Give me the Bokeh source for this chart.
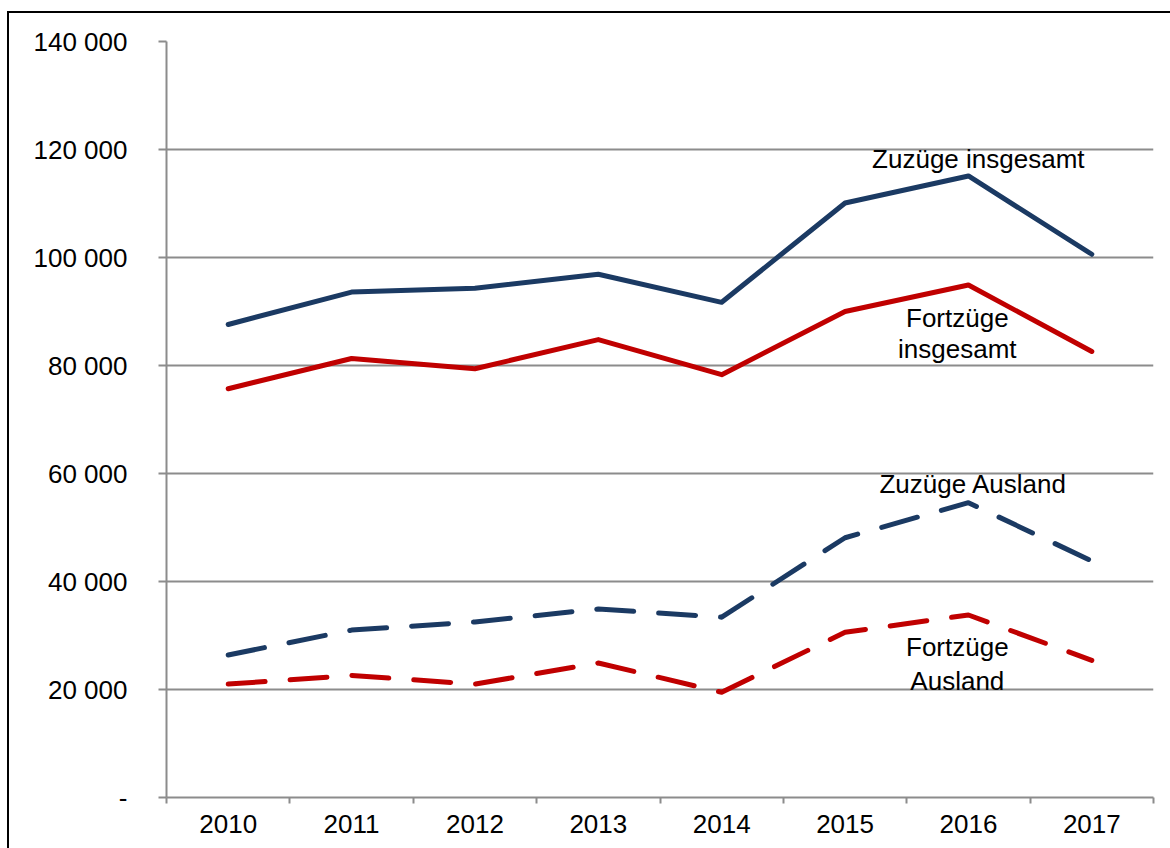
from bokeh.plotting import figure
from bokeh.models import Range1d, FixedTicker, CustomJSTickFormatter, Label
from bokeh.embed import file_html
from bokeh.resources import INLINE

years = [2010, 2011, 2012, 2013, 2014, 2015, 2016, 2017]
zuzuege_insgesamt = [87600, 93600, 94300, 96900, 91700, 110100, 115100, 100600]
fortzuege_insgesamt = [75700, 81300, 79400, 84800, 78300, 90000, 94900, 82600]
zuzuege_ausland = [26400, 31000, 32500, 34900, 33400, 48100, 54600, 43800]
fortzuege_ausland = [21000, 22600, 21000, 24900, 19500, 30600, 33800, 25400]
y_ticks = [0, 20000, 40000, 60000, 80000, 100000, 120000, 140000]

FONT = "Liberation Sans"
NAVY = "#1B3A63"
RED = "#C00000"
GRID = "#8C8C8C"

p = figure(width=1163, height=837, output_backend="svg", toolbar_location=None,
           x_range=Range1d(years[0] - 0.5, years[-1] + 0.5),
           y_range=Range1d(y_ticks[0], y_ticks[-1]),
           min_border_left=157, min_border_right=19, min_border_top=28, min_border_bottom=53)
p.margin = (11, 0, 0, 7)
p.outline_line_color = None
p.background_fill_color = "white"
p.border_fill_color = "white"
p.styles = {"border-top": "2px solid black", "border-left": "2px solid black", "box-sizing": "border-box"}

# x axis
p.xaxis.ticker = FixedTicker(ticks=years, minor_ticks=[y - 0.5 for y in years] + [years[-1] + 0.5])
p.xaxis.major_tick_out = 0
p.xaxis.major_tick_in = 0
p.xaxis.minor_tick_out = 6
p.xaxis.minor_tick_in = 0
p.xaxis.minor_tick_line_color = GRID
p.xaxis.minor_tick_line_width = 2
p.xaxis.axis_line_color = GRID
p.xaxis.axis_line_width = 2
p.xaxis.major_label_text_font = FONT
p.xaxis.major_label_text_font_size = "26px"
p.xaxis.major_label_text_color = "black"
p.xaxis.major_label_standoff = 11
p.xgrid.grid_line_color = None

# y axis
p.yaxis.ticker = FixedTicker(ticks=y_ticks)
p.yaxis.formatter = CustomJSTickFormatter(code="""
if (tick == 0) { return "-"; }
return Math.round(tick).toString().replace(/\\B(?=(\\d{3})+(?!\\d))/g, " ");
""")
p.yaxis.major_tick_out = 8
p.yaxis.major_tick_in = 0
p.yaxis.minor_tick_line_color = None
p.yaxis.major_tick_line_color = GRID
p.yaxis.major_tick_line_width = 2
p.yaxis.axis_line_color = GRID
p.yaxis.axis_line_width = 2
p.yaxis.major_label_text_font = FONT
p.yaxis.major_label_text_font_size = "26px"
p.yaxis.major_label_text_color = "black"
p.yaxis.major_label_standoff = 31
p.ygrid.grid_line_color = GRID
p.ygrid.grid_line_width = 2

# series
p.line(years, zuzuege_insgesamt, line_color=NAVY, line_width=5, line_join="round", line_cap="round")
p.line(years, fortzuege_insgesamt, line_color=RED, line_width=5, line_join="round", line_cap="round")
p.line(years, zuzuege_ausland, line_color=NAVY, line_width=5, line_join="round", line_cap="round",
       line_dash="37 25")
p.line(years, fortzuege_ausland, line_color=RED, line_width=5, line_join="round", line_cap="round",
       line_dash="37 25")

def add_label(x, y, text, lh=1.2, size="26px"):
    p.add_layout(Label(x=x, y=y, text=text, text_font=FONT, text_font_size=size,
                       text_color="black", text_align="center", text_baseline="middle",
                       text_line_height=lh))

add_label(2016.08, 118300, "Zuzüge insgesamt")
add_label(2015.91, 85900, "Fortzüge\ninsgesamt", lh=1.05)
add_label(2016.04, 58100, "Zuzüge Ausland")
add_label(2015.91, 24700, "Fortzüge\nAusland", lh=1.15)

# stray vertical stroke below the axis (present in the original)
p.add_layout(Label(x=2011.58, y=-5000, text="|", text_font=FONT, text_font_size="37px",
                   text_color="#222222", text_align="center", text_baseline="middle"))

open("out.html", "w").write(file_html(p, INLINE))
